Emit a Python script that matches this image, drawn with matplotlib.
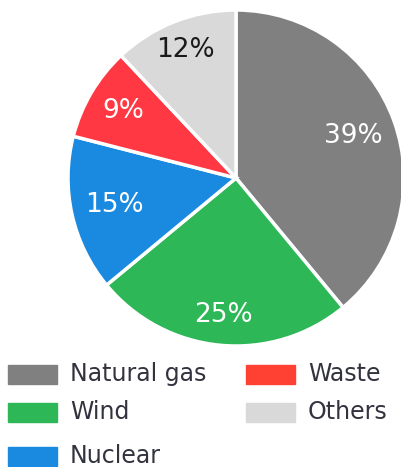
import matplotlib.pyplot as plt
from matplotlib.patches import Rectangle
import numpy as np

labels = ["Natural gas", "Wind", "Nuclear", "Waste", "Others"]
shares = [39, 25, 15, 9, 12]
slice_colors = ["#808080", "#2db757", "#1a8ae0", "#ff3843", "#d9d9d9"]
legend_colors = ["#808080", "#2db757", "#1a8ae0", "#ff4133", "#d9d9d9"]
text_colors = ["white", "white", "white", "white", "#1a1a1a"]

W, H = 401, 467
fig = plt.figure(figsize=(W / 100, H / 100), dpi=100)

# pie area: centre (236, 178) px, radius 168 px
cx, cy, r = 236, 178, 168
ax = fig.add_axes([(cx - r) / W, 1 - (cy + r) / H, 2 * r / W, 2 * r / H])
wedges, texts = ax.pie(shares, colors=slice_colors, startangle=90,
                       counterclock=False, radius=1,
                       wedgeprops=dict(edgecolor="white", linewidth=2.5))
ax.set_xlim(-1, 1)
ax.set_ylim(-1, 1)
ax.set_aspect("equal")
ax.axis("off")

# percentage labels, placed along each wedge's middle angle
label_r = [0.74, 0.82, 0.74, 0.78, 0.82]
for w, v, lr, tc in zip(wedges, shares, label_r, text_colors):
    mid = np.deg2rad((w.theta1 + w.theta2) / 2)
    ax.text(lr * np.cos(mid), lr * np.sin(mid), f"{v}%", ha="center",
            va="center", fontsize=19, color=tc)

# legend in two columns, drawn by hand
positions = [(8, 374), (8, 412), (8, 456), (246, 374), (246, 412)]
for (x, y), name, col in zip(positions, labels, legend_colors):
    fig.patches.append(Rectangle((x / W, 1 - (y + 9.5) / H), 49 / W, 19 / H,
                                 transform=fig.transFigure, color=col))
    fig.text((x + 62) / W, 1 - y / H, name, ha="left", va="center",
             fontsize=17, color="#33333f")

fig.savefig("out.png", dpi=100)
